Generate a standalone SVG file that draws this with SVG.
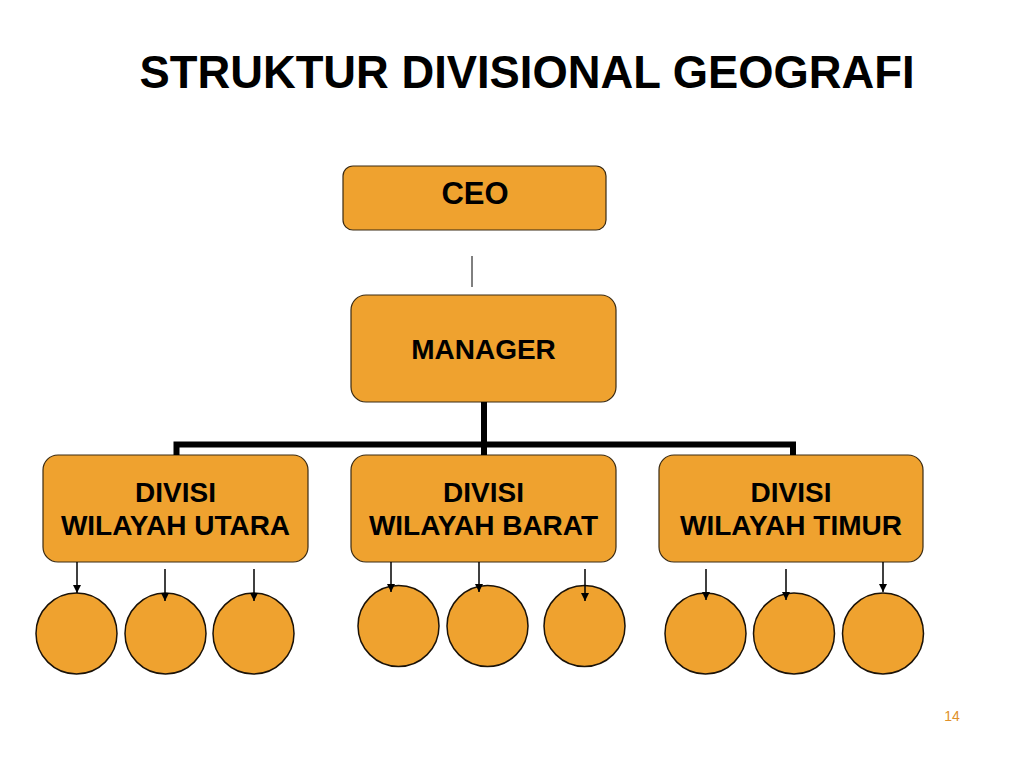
<svg xmlns="http://www.w3.org/2000/svg" width="1024" height="768" viewBox="0 0 1024 768">
<defs>
<style>
.box{fill:#EFA22F;stroke:#3a2a12;stroke-width:1.2}
.circ{fill:#EFA22F;stroke:#1a1208;stroke-width:1.5}
.t{font-family:"Liberation Sans",Arial,sans-serif;font-weight:bold;fill:#000;text-anchor:middle}
.arr{stroke:#000;stroke-width:1.5;fill:none;marker-end:url(#ah)}
.thick{stroke:#000;stroke-width:6;fill:none}
</style>
<marker id="ah" viewBox="0 0 10 10" refX="10" refY="5" markerWidth="9" markerHeight="8" markerUnits="userSpaceOnUse" orient="auto">
<path d="M0,0 L10,5 L0,10 z" fill="#000"/>
</marker>
</defs>
<rect width="1024" height="768" fill="#fff"/>
<text class="t" x="527" y="88" font-size="46" textLength="775" lengthAdjust="spacingAndGlyphs">STRUKTUR DIVISIONAL GEOGRAFI</text>

<g id="ceo">
<rect class="box" x="343" y="166" width="263" height="64" rx="10"/>
<text class="t" x="475" y="204" font-size="31">CEO</text>
</g>
<g id="manager">
<rect class="box" x="351" y="295" width="265" height="107" rx="15"/>
<text class="t" x="483.5" y="359" font-size="28">MANAGER</text>
</g>
<g id="div-utara">
<rect class="box" x="43" y="455" width="265" height="107" rx="15"/>
<text class="t" x="175.5" y="502" font-size="28">DIVISI</text>
<text class="t" x="175.5" y="535" font-size="28">WILAYAH UTARA</text>
</g>
<g id="div-barat">
<rect class="box" x="351" y="455" width="265" height="107" rx="15"/>
<text class="t" x="483.5" y="502" font-size="28">DIVISI</text>
<text class="t" x="483.5" y="535" font-size="28">WILAYAH BARAT</text>
</g>
<g id="div-timur">
<rect class="box" x="659" y="455" width="264" height="107" rx="15"/>
<text class="t" x="791" y="502" font-size="28">DIVISI</text>
<text class="t" x="791" y="535" font-size="28">WILAYAH TIMUR</text>
</g>

<g id="u1"><circle class="circ" cx="76.5" cy="633.5" r="40.5"/></g>
<g id="u2"><circle class="circ" cx="165.5" cy="633.5" r="40.5"/></g>
<g id="u3"><circle class="circ" cx="253.5" cy="633.5" r="40.5"/></g>
<g id="b1"><circle class="circ" cx="398.5" cy="626" r="40.5"/></g>
<g id="b2"><circle class="circ" cx="487.5" cy="626" r="40.5"/></g>
<g id="b3"><circle class="circ" cx="584.5" cy="626" r="40.5"/></g>
<g id="t1"><circle class="circ" cx="705.5" cy="633.5" r="40.5"/></g>
<g id="t2"><circle class="circ" cx="794" cy="633.5" r="40.5"/></g>
<g id="t3"><circle class="circ" cx="883" cy="633.5" r="40.5"/></g>

<g id="connectors">
<line x1="472" y1="256" x2="472" y2="287" stroke="#000" stroke-width="1"/>
<line class="thick" x1="484" y1="402" x2="484" y2="455"/>
<polyline class="thick" points="176.5,455 176.5,444.5 793,444.5 793,455"/>
<line class="arr" x1="77" y1="562" x2="77" y2="593"/>
<line class="arr" x1="165" y1="569" x2="165" y2="601"/>
<line class="arr" x1="254" y1="569" x2="254" y2="601"/>
<line class="arr" x1="391" y1="562" x2="391" y2="592"/>
<line class="arr" x1="479" y1="562" x2="479" y2="592"/>
<line class="arr" x1="585" y1="569" x2="585" y2="601"/>
<line class="arr" x1="706" y1="569" x2="706" y2="600"/>
<line class="arr" x1="786" y1="569" x2="786" y2="600"/>
<line class="arr" x1="883" y1="562" x2="883" y2="592"/>
</g>

<text x="952" y="721" font-family="'Liberation Sans',Arial,sans-serif" font-size="14" fill="#E0902A" text-anchor="middle">14</text>
</svg>
